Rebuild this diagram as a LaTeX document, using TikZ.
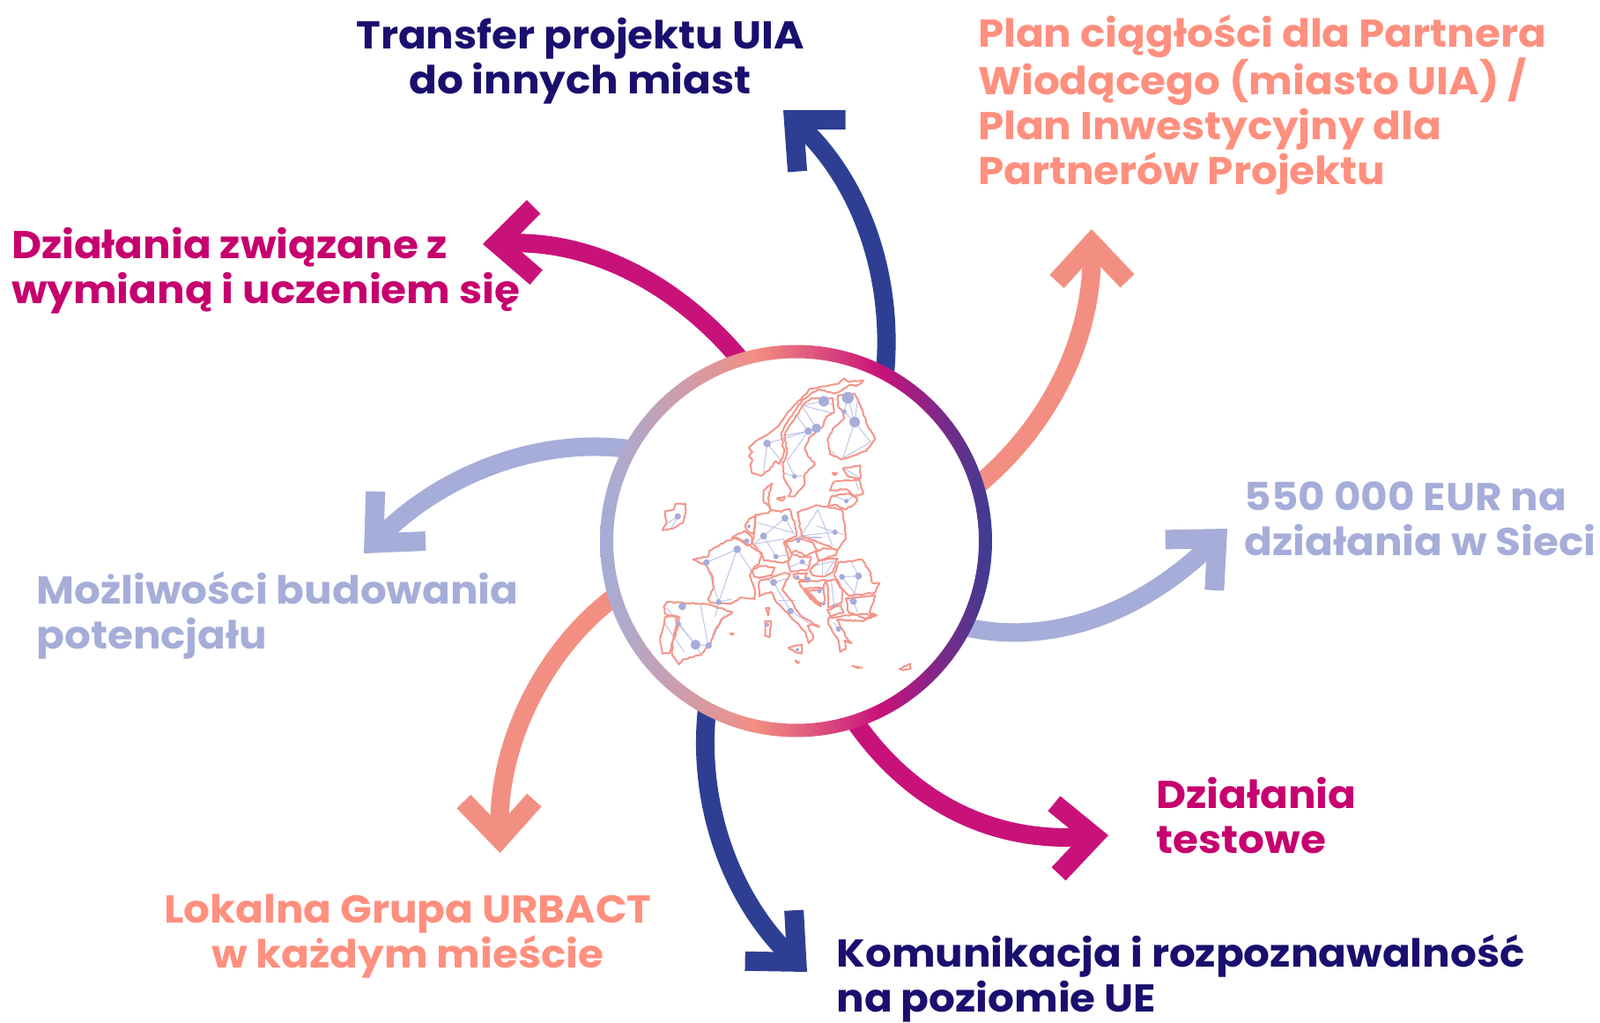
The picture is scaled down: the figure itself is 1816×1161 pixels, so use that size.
\documentclass[tikz,border=0pt]{standalone}
\usepackage{fontspec}
\setmainfont{Poppins}[FakeStretch=1.065]
\usetikzlibrary{arrows.meta,decorations.pathmorphing}
\definecolor{txtnavy}{HTML}{1A0F6E}
\definecolor{txtmag}{HTML}{C6006E}
\definecolor{txtsal}{HTML}{FF8F7E}
\definecolor{peri}{HTML}{A5ADD8}
\definecolor{arrnavy}{HTML}{2E3F93}
\definecolor{arrmag}{HTML}{C8127A}
\definecolor{arrsal}{HTML}{F28F82}
\definecolor{mapline}{HTML}{F4958A}
\definecolor{netline}{HTML}{C2C8E8}
\pgfdeclarehorizontalshading{ringgrad}{100bp}{
  rgb(0bp)=(0.647,0.678,0.847);
  rgb(25bp)=(0.647,0.678,0.847);
  rgb(44.8bp)=(0.949,0.56,0.51);
  rgb(60.8bp)=(0.784,0.07,0.478);
  rgb(75bp)=(0.23,0.24,0.58);
  rgb(100bp)=(0.23,0.24,0.58)}
\tikzset{
  label/.style={font=\bfseries\fontsize{44}{51}\selectfont,inner sep=0pt,outer sep=0pt},
  flow/.style={line width=21pt,-{Straight Barb[length=43pt,width=80pt,line width=22pt]}},
  cty/.style={draw=mapline,line width=2pt,line join=round,fill=none,decorate,decoration={random steps,segment length=3pt,amplitude=0.7pt}},
  net/.style={draw=netline,line width=1.1pt},
  dot/.style={fill=peri,draw=none}
}
\begin{document}
\begin{tikzpicture}[x=1pt,y=-1pt]
\useasboundingbox (0,0) rectangle (1816,1161);
\node[circle,minimum size=430pt,inner sep=0pt,outer sep=0pt] (hub) at (903.5,614) {};
\coordinate (e1) at (889,125);
\coordinate (e2) at (1239,260);
\coordinate (e3) at (1393,600);
\coordinate (e4) at (1258,948);
\coordinate (e5) at (916,1103);
\coordinate (e6) at (567.5,968);
\coordinate (e7) at (413,628);
\coordinate (e8) at (548,277);
\draw[flow,arrnavy] (hub.62.6) .. controls (1015,310) and (975,205) .. (e1);
\draw[flow,arrsal] (hub.17.2) .. controls (1195,480) and (1240,380) .. (e2);
\draw[flow,peri] (hub.-27.9) .. controls (1200,735) and (1300,690) .. (e3);
\draw[flow,arrmag] (hub.-72.3) .. controls (1030,905) and (1120,957) .. (e4);
\draw[flow,arrnavy] (hub.-118.7) .. controls (790,920) and (835,1025) .. (e5);
\draw[flow,arrsal] (hub.197) .. controls (620,735) and (565,840) .. (e6);
\draw[flow,peri] (hub.151.7) .. controls (610,495) and (500,540) .. (e7);
\draw[flow,arrmag] (hub.107.6) .. controls (775,330) and (680,272) .. (e8);
% ring
\path[shading=ringgrad,even odd rule] (903.5,614) circle[radius=222.5] (903.5,614) circle[radius=207.5];
% map
\begin{scope}[shift={(680,380)},x=0.33333pt,y=-0.33333pt]
\foreach \a/\b/\c/\d in {
 690/240/800/268, 765/226/690/240, 765/226/800/240, 672/275/712/328, 690/240/740/318, 572/370/712/328, 620/345/712/328, 712/328/640/430, 712/328/740/318,
 572/370/560/465, 572/370/625/435, 665/482/630/470, 665/482/700/480, 640/430/665/482,
 847/214/870/297, 835/262/870/297, 847/214/835/262, 870/297/830/420, 870/297/925/365, 925/365/830/420, 790/395/815/420, 880/220/870/297,
 835/455/885/485, 870/490/885/530, 842/566/795/545, 842/566/880/540,
 633/624/665/680, 540/640/665/675, 560/685/633/624, 560/685/602/755, 560/685/530/710, 530/712/630/695, 602/755/640/750,
 745/595/690/680, 745/595/795/720, 803/672/680/685, 803/672/740/650, 803/672/835/680, 760/690/680/690,
 470/730/365/775, 470/730/407/910, 470/730/520/805, 365/775/407/910, 407/910/450/900, 407/910/395/960,
 345/920/370/1050, 230/930/328/1055, 270/985/328/1055, 328/1055/373/1058, 373/1058/430/950, 328/1055/350/1095, 225/985/290/1080,
 594/843/652/940, 594/843/560/830, 594/843/640/830, 610/905/670/905, 652/940/720/985,
 827/824/883/821, 883/821/870/880, 827/824/870/880, 883/821/860/775, 866/908/840/900, 866/908/880/945,
 720/790/800/770, 770/815/800/770, 760/770/760/820, 692/773/650/790, 692/773/715/790,
 800/922/790/830, 815/1002/800/980, 268/618/245/660, 268/618/235/640}
  {\draw[net] (\a,\b) -- (\c,\d);}
% Norway
\draw[cty] (520,470)--(515,440)--(522,425)--(510,412)--(522,400)--(510,385)--(530,365)--(580,335)--(615,305)--(635,275)--(660,245)--(700,205)--(715,185)--(770,175)--(810,168)--(835,148)--(850,160)--(900,155)--(875,175)--(855,170)--(825,190)--(800,200)--(750,185)--(715,205)--(690,225)--(670,255)--(645,290)--(630,315)--(620,335)--(630,400)--(615,440)--(600,430)--(580,460)--(550,480)--cycle;
% Sweden
\draw[cty] (632,340)--(645,315)--(675,272)--(700,232)--(722,216)--(795,216)--(800,265)--(775,278)--(760,315)--(715,350)--(700,385)--(712,415)--(735,440)--(700,475)--(700,510)--(665,550)--(645,550)--(655,530)--(630,490)--(625,445)--(640,405)--cycle;
% Finland
\draw[cty] (812,208)--(870,200)--(890,240)--(915,310)--(940,355)--(910,395)--(825,425)--(785,405)--(778,355)--(800,315)--(835,285)--(830,265)--(812,240)--cycle;
% Baltics
\draw[cty] (830,455)--(890,445)--(890,490)--(845,480)--cycle;
\draw[cty] (785,530)--(800,500)--(845,495)--(885,495)--(900,540)--(870,550)--(840,525)--(800,530)--cycle;
\draw[cty] (790,550)--(850,540)--(880,560)--(865,580)--(835,595)--(810,580)--(780,580)--cycle;
% Denmark
\draw[cty] (560,570)--(560,530)--(590,505)--(575,555)--(585,598)--(570,575)--cycle;
\draw[cty] (605,558)--(632,550)--(625,565)--cycle;
% Ireland
\draw[cty] (225,600)--(255,595)--(260,575)--(295,575)--(295,595)--(285,640)--(250,660)--(215,665)--(230,640)--(225,620)--cycle;
% Germany
\draw[cty,scale around={.97:(595,690)}] (530,610)--(575,605)--(585,595)--(620,600)--(650,590)--(670,650)--(675,685)--(630,705)--(640,740)--(650,770)--(625,780)--(560,770)--(545,740)--(520,710)--(525,680)--(530,650)--cycle;
% Netherlands, Belgium
\draw[cty,scale around={.93:(515,645)}] (495,650)--(510,625)--(535,615)--(530,650)--(525,680)--(505,670)--cycle;
\draw[cty,scale around={.93:(490,695)}] (450,690)--(495,665)--(520,685)--(525,710)--(505,720)--(480,700)--cycle;
% Poland
\draw[cty] (675,605)--(740,580)--(825,595)--(835,640)--(840,695)--(810,735)--(785,720)--(690,685)--cycle;
% Czechia, Slovakia, Austria, Hungary
\draw[cty,scale around={.92:(690,725)}] (630,705)--(680,690)--(730,705)--(750,735)--(705,755)--(670,735)--(650,745)--cycle;
\draw[cty,scale around={.92:(775,745)}] (735,740)--(760,725)--(815,730)--(810,750)--(745,770)--cycle;
\draw[cty,scale around={.92:(680,780)}] (640,775)--(655,745)--(695,755)--(725,755)--(715,800)--(650,810)--cycle;
\draw[cty,scale around={.95:(765,795)}] (715,805)--(750,765)--(815,760)--(795,810)--(765,825)--(725,820)--cycle;
% Romania, Bulgaria
\draw[cty] (815,775)--(895,765)--(925,810)--(930,845)--(955,845)--(940,878)--(850,888)--(820,860)--(800,820)--cycle;
\draw[cty] (840,897)--(940,887)--(930,920)--(920,945)--(945,955)--(905,965)--(850,945)--cycle;
% France
\draw[cty] (320,765)--(370,755)--(375,735)--(440,700)--(470,690)--(555,745)--(545,780)--(528,790)--(512,820)--(530,865)--(530,900)--(480,895)--(450,915)--(380,912)--(370,900)--(390,860)--(385,820)--(365,785)--cycle;
% Switzerland
\draw[cty,scale around={.92:(560,810)}] (515,800)--(550,785)--(600,790)--(590,820)--(545,830)--(525,825)--cycle;
% Italy and islands
\draw[cty] (545,840)--(630,810)--(650,815)--(635,840)--(625,870)--(650,900)--(685,955)--(725,980)--(750,995)--(725,985)--(710,990)--(730,1030)--(715,1050)--(700,1010)--(640,945)--(600,905)--(585,875)--(545,890)--cycle;
\draw[cty] (645,1065)--(690,1055)--(690,1085)--(665,1078)--cycle;
\draw[cty] (565,975)--(585,975)--(580,1030)--(565,1025)--cycle;
\draw[cty] (568,930)--(580,930)--(575,955)--cycle;
\draw[cty] (445,1016)--(458,1018)--(452,1022)--cycle;
\draw[cty] (668,1108)--(682,1115)--(675,1118)--cycle;
% Iberia
\draw[cty] (220,925)--(230,910)--(370,917)--(455,945)--(420,965)--(395,1005)--(380,1050)--(345,1090)--(285,1105)--(272,1122)--(248,1085)--(252,1040)--(268,1000)--(272,960)--(225,950)--cycle;
\draw[cty] (225,960)--(265,958)--(260,1000)--(240,1085)--(215,1085)--(208,1040)--cycle;
% Balkans
\draw[cty,scale around={.94:(685,825)}] (660,815)--(710,810)--(700,835)--(665,830)--cycle;
\draw[cty] (680,840)--(710,840)--(770,835)--(765,860)--(700,865)--(730,900)--(755,925)--(720,900)--(690,860)--cycle;
\draw[cty,scale around={.95:(740,880)}] (705,870)--(765,865)--(770,905)--(760,920)--(735,900)--cycle;
\draw[cty,scale around={.96:(800,880)}] (775,835)--(810,830)--(830,870)--(825,915)--(780,930)--cycle;
\draw[cty,scale around={.92:(805,945)}] (775,935)--(825,920)--(835,945)--(785,960)--cycle;
% Greece
\draw[cty] (780,965)--(840,955)--(905,950)--(940,955)--(900,975)--(810,970)--(845,1035)--(860,1050)--(835,1040)--(840,1070)--(820,1080)--(815,1040)--(780,985)--cycle;
% Cyprus, Crete, Estonia islands
\draw[cty] (1022,1138)--(1060,1120)--(1062,1135)--(1035,1142)--cycle;
\draw[cty] (862,1127)--(895,1133)--(880,1135)--cycle;
\draw[cty] (795,470)--(810,472)--(800,478)--cycle;
\foreach \a/\b/\r in {765/226/18, 847/214/20, 870/297/18, 740/318/16, 712/328/13, 572/370/13, 665/482/8, 842/566/8, 633/624/12, 803/672/9, 560/685/12, 678/700/8, 510/652/6, 503/702/9, 470/730/13, 602/755/9, 692/773/9, 365/775/11, 827/824/10, 883/821/12, 594/843/12, 710/832/9, 675/825/7, 750/872/8, 866/908/12, 407/910/10, 283/925/13, 270/985/9, 328/1055/17, 373/1058/11, 652/940/11, 800/922/6, 815/1002/9, 572/987/7, 268/618/11, 835/262/8, 765/915/6, 675/1072/6}
  {\fill[dot] (\a,\b) circle[radius=\r];}
\end{scope}
% labels
\node[label,txtnavy,align=center,anchor=base] (l1) at (658.5,106.5) {Transfer projektu UIA\\do innych miast};
\node[label,txtsal,align=left,anchor=base west] (l2) at (1110,210) {Plan ciągłości dla Partnera\\Wiodącego (miasto UIA) /\\Plan Inwestycyjny dla\\Partnerów Projektu};
\node[label,peri,align=left,anchor=base west] (l3) at (1412.7,630) {550 000 EUR na\\działania w Sieci};
\node[label,txtmag,align=left,anchor=base west] (l4) at (1312.5,968) {Działania\\testowe};
\node[label,txtnavy,align=left,anchor=base west] (l5) at (949.5,1148) {Komunikacja i rozpoznawalność\\na poziomie UE};
\node[label,txtsal,align=center,anchor=base] (l6) at (463,1098.5) {Lokalna Grupa URBACT\\w każdym mieście};
\node[label,peri,align=left,anchor=base west] (l7) at (41.5,736.5) {Możliwości budowania\\potencjału};
\node[label,txtmag,align=left,anchor=base west] (l8) at (13,344) {Działania związane z\\wymianą i uczeniem się};
\end{tikzpicture}
\end{document}
